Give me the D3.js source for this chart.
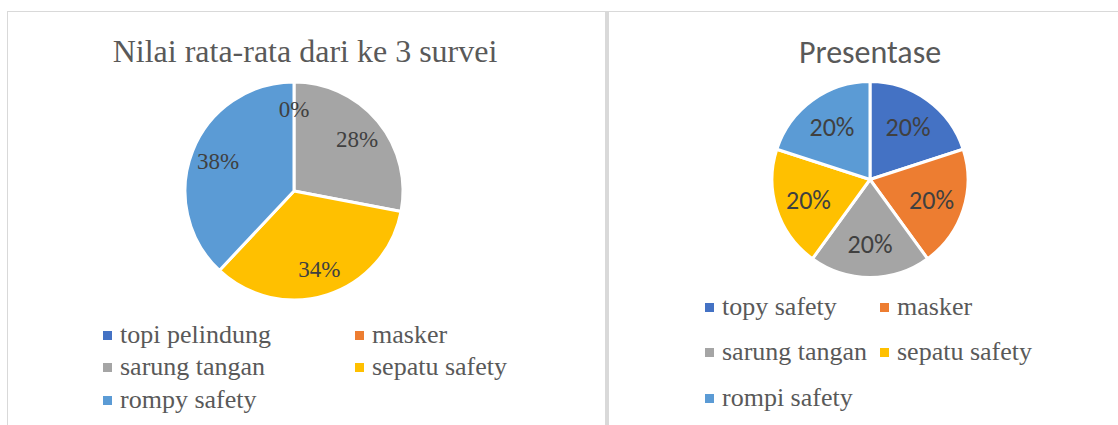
<!DOCTYPE html>
<html>
<head>
<meta charset="utf-8">
<script src="https://cdn.jsdelivr.net/npm/d3@7"></script>
<style>
  body { margin: 0; background: #fff; }
  svg { display: block; }
</style>
</head>
<body>
<svg id="chart" width="1118" height="425"></svg>
<script>
// data
const leftTitle = "Nilai rata-rata dari ke 3 survei";
const leftCategories = ["topi pelindung", "masker", "sarung tangan", "sepatu safety", "rompy safety"];
const leftValues = [0, 0, 28, 34, 38];

const rightTitle = "Presentase";
const rightCategories = ["topy safety", "masker", "sarung tangan", "sepatu safety", "rompi safety"];
const rightValues = [20, 20, 20, 20, 20];

const colors = ["#4472C4", "#ED7D31", "#A5A5A5", "#FFC000", "#5B9BD5"];

const serif = "'Liberation Serif', 'Times New Roman', serif";
const sans = "Carlito, Calibri, 'Liberation Sans', sans-serif";

const svg = d3.select("#chart");

// frames
svg.append("rect").attr("x", 7.5).attr("y", 11.5).attr("width", 1130).attr("height", 440)
  .attr("fill", "none").attr("stroke", "#d9d9d9").attr("stroke-width", 1);
svg.append("rect").attr("x", 605).attr("y", 12).attr("width", 4).attr("height", 413)
  .attr("fill", "#d9d9d9");

function drawPie(cfg) {
  const g = svg.append("g");

  g.append("text")
    .attr("x", cfg.titleX).attr("y", cfg.titleY)
    .attr("text-anchor", "middle")
    .attr("font-family", cfg.titleFont)
    .attr("font-size", cfg.titleSize)
    .attr("fill", "#595959")
    .text(cfg.title);

  const pie = d3.pie().sort(null).value(d => d);
  const arcs = pie(cfg.values);
  const arc = d3.arc().innerRadius(0).outerRadius(cfg.r);
  const labelArc = d3.arc().innerRadius(cfg.r * cfg.labelPos).outerRadius(cfg.r * cfg.labelPos);
  const total = d3.sum(cfg.values);

  const pg = g.append("g").attr("transform", `translate(${cfg.cx},${cfg.cy})`);
  pg.selectAll("path")
    .data(arcs)
    .join("path")
    .attr("d", arc)
    .attr("fill", (d, i) => colors[i])
    .attr("stroke", "#fff")
    .attr("stroke-width", 3)
    .attr("stroke-linejoin", "round");

  pg.selectAll("text.lbl")
    .data(arcs.filter((d, i) => i !== cfg.skipLabel))
    .join("text")
    .attr("class", "lbl")
    .attr("transform", d => `translate(${labelArc.centroid(d)})`)
    .attr("text-anchor", "middle")
    .attr("dy", "0.35em")
    .style("font-family", cfg.labelFont)
    .attr("font-size", cfg.labelSize)
    .attr("fill", "#404040")
    .text(d => Math.round(d.data / total * 100) + "%");

  // legend
  const lg = g.append("g");
  cfg.categories.forEach((c, i) => {
    const col = i % 2, row = Math.floor(i / 2);
    const x = cfg.legX[col], y = cfg.legY[row];
    lg.append("rect")
      .attr("x", x).attr("y", y - 12).attr("width", 9).attr("height", 9)
      .attr("fill", colors[i]);
    lg.append("text")
      .attr("x", x + 17).attr("y", y)
      .attr("font-family", serif)
      .attr("font-size", 26)
      .attr("fill", "#595959")
      .text(c);
  });
}

drawPie({
  title: leftTitle, titleX: 305, titleY: 62,
  titleFont: serif, titleSize: 32,
  values: leftValues, categories: leftCategories,
  cx: 294, cy: 191, r: 109, labelPos: 0.75, skipLabel: 0,
  labelFont: serif, labelSize: 23,
  legX: [103, 355], legY: [343, 375, 408]
});

drawPie({
  title: rightTitle, titleX: 870, titleY: 63,
  titleFont: sans, titleSize: 32,
  values: rightValues, categories: rightCategories,
  cx: 870, cy: 179.5, r: 98, labelPos: 0.66, skipLabel: -1,
  labelFont: sans, labelSize: 26,
  legX: [705, 880], legY: [315, 360, 406]
});
</script>
</body>
</html>
